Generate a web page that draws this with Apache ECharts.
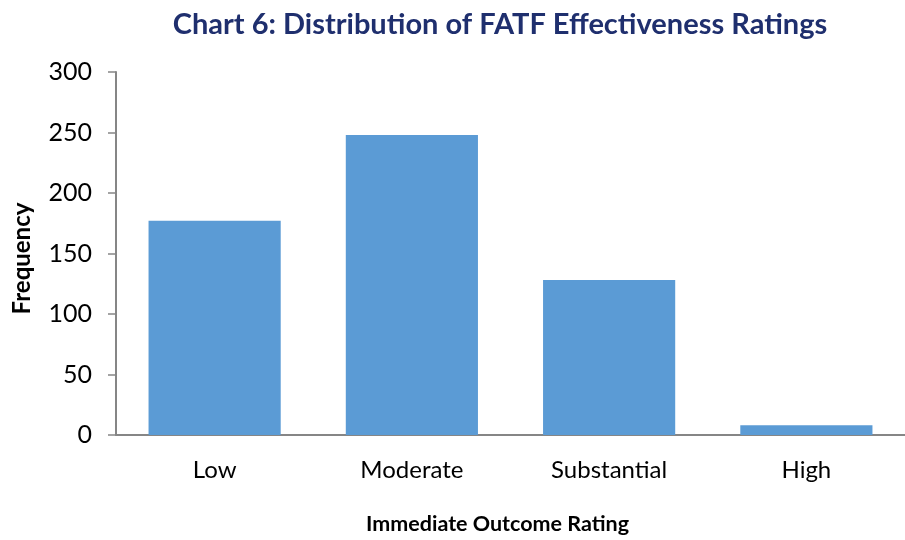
<!DOCTYPE html>
<html>
<head>
<meta charset="utf-8">
<script src="https://cdn.jsdelivr.net/npm/echarts@6/dist/echarts.min.js"></script>
<style>
  html, body { margin: 0; padding: 0; background: #fff; }
  #chart { width: 905px; height: 540px; }
</style>
</head>
<body>
<div id="chart"></div>
<script>
// 数据
const categories = ['Low', 'Moderate', 'Substantial', 'High']
const frequency = [177, 248, 128, 8]
const yTicks = { min: 0, max: 300, interval: 50 }

const axisGray = '#868686'
const font = 'Lato, "Open Sans", sans-serif'

const chart = echarts.init(document.getElementById('chart'))
chart.setOption({
  animation: false,
  title: {
    text: 'Chart 6: Distribution of FATF Effectiveness Ratings',
    left: 495,
    top: 5,
    textAlign: 'center',
    textStyle: {
      fontFamily: font,
      fontSize: 29,
      fontWeight: 'bold',
      color: '#1F2F6E'
    }
  },
  grid: {
    left: 116,
    right: 0,
    top: 72,
    bottom: 99,
    containLabel: false
  },
  xAxis: {
    type: 'category',
    data: categories,
    name: 'Immediate Outcome Rating',
    nameLocation: 'middle',
    nameGap: 78,
    nameTextStyle: {
      fontFamily: font,
      fontSize: 21.5,
      fontWeight: 'bold',
      color: '#000',
      padding: [0, 26, 0, 0]
    },
    axisLine: { lineStyle: { color: axisGray, width: 2 } },
    axisTick: { length: 10, lineStyle: { color: axisGray, width: 1.5 } },
    axisLabel: {
      margin: 23,
      fontFamily: font,
      fontSize: 24,
      color: '#000'
    }
  },
  yAxis: {
    type: 'value',
    min: yTicks.min,
    max: yTicks.max,
    interval: yTicks.interval,
    name: 'Frequency',
    nameLocation: 'middle',
    nameRotate: 90,
    nameGap: 82,
    nameTextStyle: {
      fontFamily: font,
      fontSize: 24,
      fontWeight: 'bold',
      color: '#000',
      padding: [0, 10, 0, 0]
    },
    splitLine: { show: false },
    axisLine: { show: true, lineStyle: { color: axisGray, width: 2 } },
    axisTick: { show: true, length: 8, lineStyle: { color: axisGray, width: 1.5 } },
    axisLabel: {
      margin: 24,
      fontFamily: font,
      fontSize: 25,
      color: '#000'
    }
  },
  series: [
    {
      type: 'bar',
      data: frequency,
      barWidth: '67%',
      itemStyle: { color: '#5B9BD5' }
    }
  ]
})
</script>
</body>
</html>
